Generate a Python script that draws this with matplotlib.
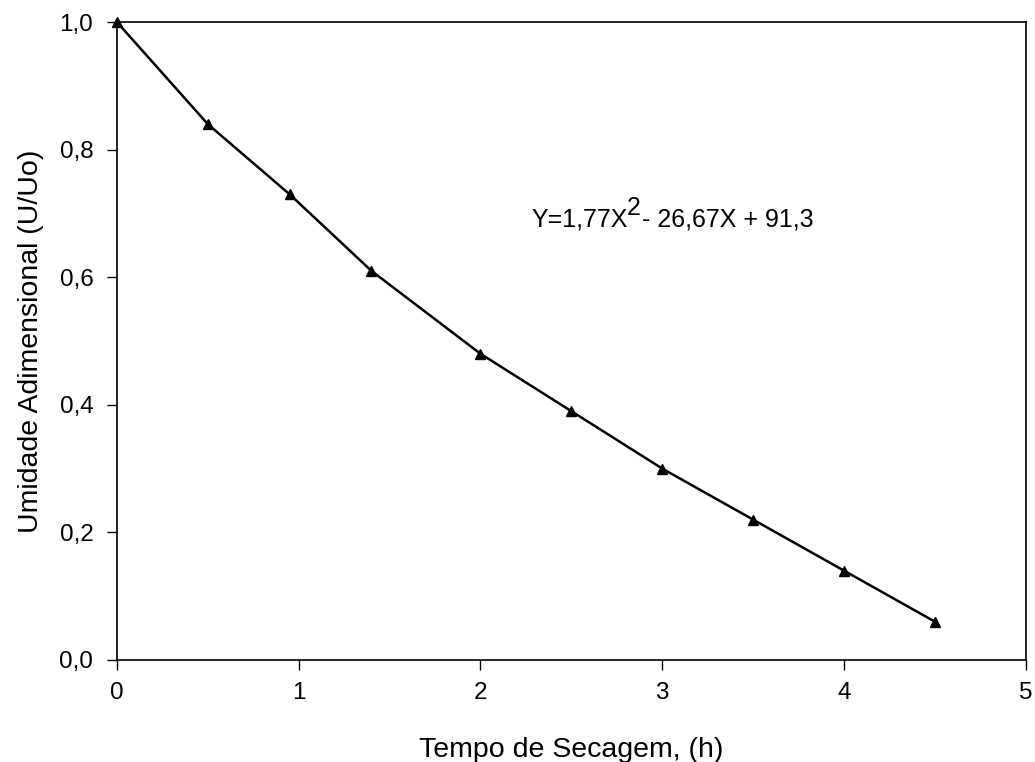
import matplotlib.pyplot as plt
from matplotlib.ticker import FuncFormatter

plt.rcParams['font.family'] = ['Liberation Sans', 'DejaVu Sans']

tempo = [0, 0.5, 0.95, 1.4, 2.0, 2.5, 3.0, 3.5, 4.0, 4.5]
umidade = [1.0, 0.84, 0.73, 0.61, 0.48, 0.39, 0.30, 0.22, 0.14, 0.06]

fig = plt.figure(figsize=(10.35, 7.62), dpi=100)
ax = fig.add_axes([0.113, 0.134, 0.878, 0.837])

ax.plot(tempo, umidade, 'k-', marker='^', markersize=6.5, linewidth=1.8, clip_on=False)

ax.set_xlim(0, 5)
ax.set_ylim(0, 1.0)
ax.set_xticks([0, 1, 2, 3, 4, 5])
ax.set_yticks([0, 0.2, 0.4, 0.6, 0.8, 1.0])
ax.yaxis.set_major_formatter(FuncFormatter(lambda v, p: ('%.1f' % v).replace('.', ',')))
ax.tick_params(direction='out', length=7, width=1, labelsize=17.5)
ax.tick_params(axis='x', pad=9)
ax.tick_params(axis='y', pad=10)
for s in ax.spines.values():
    s.set_linewidth(1.2)

ax.set_xlabel('Tempo de Secagem, (h)', fontsize=20.5, labelpad=24)
ax.set_ylabel('Umidade Adimensional (U/Uo)', fontsize=20.5, labelpad=11)

# equacao com expoente em tamanho normal
t1 = ax.text(2.283, 0.671, 'Y=1,77X', fontsize=18, va='bottom')
t2 = ax.annotate('2', xy=(1, 1), xycoords=t1, xytext=(-1, -9),
                 textcoords='offset points', fontsize=18, va='bottom')
ax.annotate('- 26,67X + 91,3', xy=(1, 0), xycoords=(t2, t1), xytext=(1, 0),
            textcoords='offset points', fontsize=18, va='bottom')

fig.savefig('out.png', dpi=100)
